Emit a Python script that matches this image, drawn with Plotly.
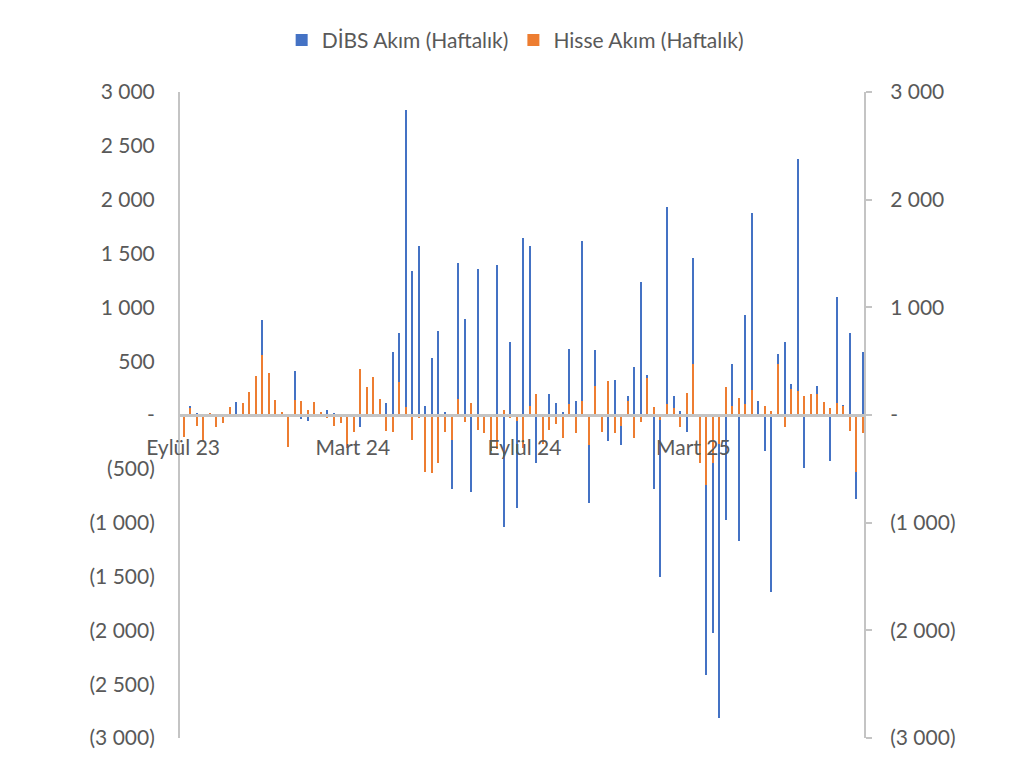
import pandas as pd
import plotly.graph_objects as go

# weekly flows, million USD
dates = pd.date_range('2023-09-02', periods=105, freq='7D')

dibs = [
    -40, 87, 15, -30, 10, -30, -20, 30, 124, 40,
    50, 100, 879, 150, 40, 10, -50, 412, -40, -55,
    30, 10, 50, 15, -20, -80, -40, -108, 60, 90,
    25, 108, 588, 758, 2835, 1334, 1566, 87, 532, 783,
    25, -687, 1408, 891, -712, 1359, -40, -80, 1396, -1037,
    675, -867, 1647, 1572, -449, -60, 192, 111, 25, 613,
    133, 1619, -820, 600, -50, -241, 325, -279, 180, 449,
    1238, 374, -687, -1501, 1934, 173, 37, -155, 1455, -100,
    -2414, -2027, -2810, -975, 470, -1170, 929, 1872, 133, -334,
    -1646, 566, 675, 291, 2377, -495, 50, 266, 40, -427,
    1093, 93, 758, -780, 582,
]

hisse = [
    -207, 62, -99, -241, 15, -111, -77, 77, -5, 111,
    210, 365, 557, 387, 136, 28, -300, 142, 133, 46,
    124, 25, -31, -99, -77, -310, -155, 424, 257, 350,
    145, -148, -161, 303, 71, -232, -31, -532, -542, -449,
    -161, -232, 145, -62, 111, -136, -170, -334, -316, 50,
    -31, -56, -310, 87, 192, -272, -136, -84, -217, 99,
    -170, 133, -279, 266, -155, 313, -170, -99, 133, -217,
    -68, 340, 77, -50, 102, 62, -108, 204, 474, -449,
    -650, -449, -270, 257, 87, 161, 99, 235, -10, 87,
    40, 474, -108, 241, 226, 173, 195, 195, 124, 62,
    111, 80, -148, -532, -170,
]

left_vals = list(range(-3000, 3001, 500))
right_vals = list(range(-3000, 3001, 1000))
x_ticks = ['2023-09-01', '2024-03-01', '2024-09-01', '2025-03-01', '2025-09-01']
x_labels = ['Eylül 23', 'Mart 24', 'Eylül 24', 'Mart 25', 'Eylül 25']


def fmt(v):
    if v == 0:
        return '-'
    s = f'{abs(v):,}'.replace(',', ' ')
    return f'({s})' if v < 0 else s


FONT = 'Lato'
GREY = '#595959'
SIZE = 21
bar_w = 1.5 * 86400000

fig = go.Figure()
fig.add_trace(go.Bar(x=dates, y=dibs, name='DİBS Akım (Haftalık)', width=bar_w,
                     marker=dict(color='#4472C4', line=dict(width=0)), yaxis='y'))
fig.add_trace(go.Bar(x=dates, y=hisse, name='Hisse Akım (Haftalık)', width=bar_w,
                     marker=dict(color='#ED7D31', line=dict(width=0)), yaxis='y2'))

# page body adds 8px, so the figure is drawn at 1003x759
fig.update_layout(
    width=1003, height=759,
    margin=dict(l=172, r=147, t=82, b=29),
    paper_bgcolor='white', plot_bgcolor='white',
    barmode='overlay', bargap=0,
    font=dict(family=FONT, size=SIZE, color=GREY),
    showlegend=True,
    legend=dict(orientation='h', x=0.49, xanchor='center', y=1.08, yanchor='middle',
                font=dict(size=SIZE, color=GREY), itemwidth=30, traceorder='normal'),
    xaxis=dict(type='date', range=['2023-08-28 16:48', '2025-08-31'],
               anchor='free', position=0.5, showgrid=False, zeroline=False,
               showline=True, linecolor='#c4c4c4', linewidth=3,
               tickvals=x_ticks, ticktext=x_labels, ticks='',
               ticklabelstandoff=13, tickfont=dict(size=SIZE, color=GREY)),
    yaxis=dict(range=[-3000, 3000], tickvals=left_vals, ticktext=[fmt(v) for v in left_vals],
               showgrid=False, zeroline=False, showline=True, linecolor='#c4c4c4', linewidth=2,
               ticks='', ticklabelstandoff=19, tickfont=dict(size=SIZE, color=GREY)),
    yaxis2=dict(range=[-3000, 3000], overlaying='y', side='right', anchor='x',
                tickvals=right_vals, ticktext=[fmt(v) for v in right_vals],
                showgrid=False, zeroline=False, showline=True, linecolor='#c4c4c4', linewidth=2,
                ticks='outside', ticklen=6, tickwidth=2, tickcolor='#c4c4c4',
                ticklabelstandoff=14, tickfont=dict(size=SIZE, color=GREY)),
)

fig.write_html('out.html')
